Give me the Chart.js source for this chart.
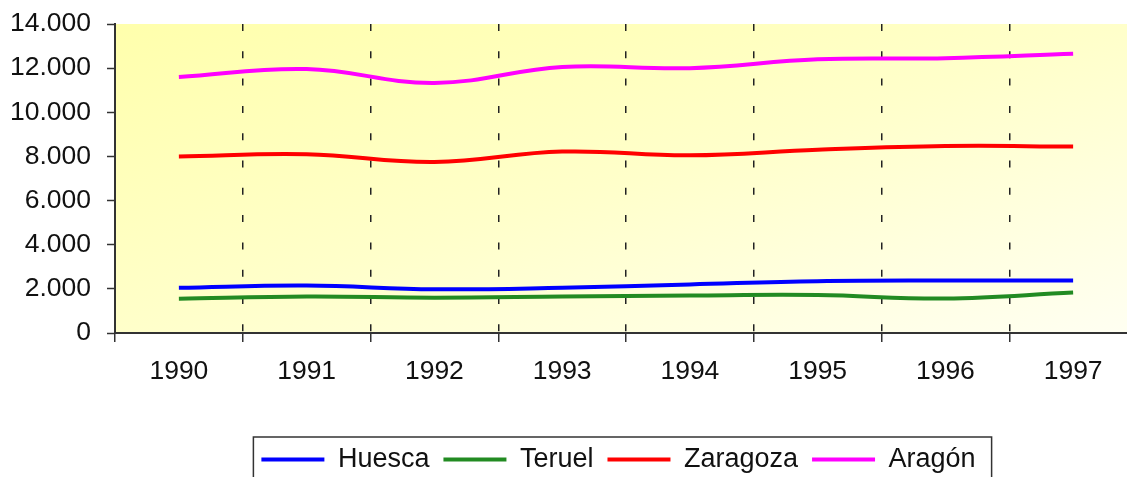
<!DOCTYPE html>
<html>
<head>
<meta charset="utf-8">
<script src="https://cdn.jsdelivr.net/npm/chart.js@4/dist/chart.umd.min.js"></script>
<style>
  html, body { margin: 0; padding: 0; overflow: hidden; background: #fff; }
  #wrap { position: absolute; left: 0; top: 0; width: 1237px; height: 483px; }
</style>
</head>
<body>
<div id="wrap"><canvas id="poblacionChart"></canvas></div>
<script>
// data
const years = ['1990', '1991', '1992', '1993', '1994', '1995', '1996', '1997'];
const huesca = [2050, 2150, 1980, 2050, 2200, 2350, 2380, 2380];
const teruel = [1550, 1650, 1600, 1650, 1700, 1720, 1560, 1830];
const zaragoza = [8000, 8100, 7750, 8220, 8050, 8300, 8470, 8450];
const aragon = [11600, 11960, 11330, 12050, 12000, 12400, 12450, 12650];
const yTicks = [0, 2000, 4000, 6000, 8000, 10000, 12000, 14000];

const axisColor = '#333';
const fontFamily = '"Liberation Sans", Arial, sans-serif';

function miles(v) {
    return String(v).replace(/\B(?=(\d{3})+(?!\d))/g, '.');
}

// yellow gradient behind the plot area
const plotBackground = {
    id: 'plotBackground',
    beforeDraw(chart) {
        const {ctx, chartArea: a} = chart;
        const W = a.right - a.left, H = a.bottom - a.top;
        const k = 2 * W * H / (W * W + H * H);
        const g = ctx.createLinearGradient(a.left, a.top, a.left + H * k, a.top + W * k);
        g.addColorStop(0, '#ffffac');
        g.addColorStop(0.5, '#ffffca');
        g.addColorStop(1, '#fffff2');
        ctx.save();
        ctx.fillStyle = g;
        ctx.fillRect(a.left, a.top, W, H);
        ctx.restore();
    }
};

// frame around the legend
const legendFrame = {
    id: 'legendFrame',
    afterDraw(chart) {
        const boxes = chart.legend.legendHitBoxes;
        if (!boxes || !boxes.length) return;
        const first = boxes[0], last = boxes[boxes.length - 1];
        const ctx = chart.ctx;
        ctx.save();
        ctx.strokeStyle = axisColor;
        ctx.lineWidth = 1.5;
        ctx.strokeRect(first.left - 8, first.top - 9, last.left + last.width + 16 - (first.left - 8), 60);
        ctx.restore();
    }
};

const ctx = document.getElementById('poblacionChart').getContext('2d');
const poblacionChart = new Chart(ctx, {
    type: 'line',
    data: {
        labels: years,
        datasets: [
            { label: 'Huesca', data: huesca, borderColor: '#0000ff', backgroundColor: '#0000ff' },
            { label: 'Teruel', data: teruel, borderColor: '#228b22', backgroundColor: '#228b22' },
            { label: 'Zaragoza', data: zaragoza, borderColor: '#ff0000', backgroundColor: '#ff0000' },
            { label: 'Aragón', data: aragon, borderColor: '#ff00ff', backgroundColor: '#ff00ff' }
        ]
    },
    options: {
        responsive: true,
        maintainAspectRatio: false,
        animation: false,
        layout: { padding: { left: 0, right: 0, top: 24, bottom: 0 } },
        elements: {
            line: { borderWidth: 4, tension: 0.4 },
            point: { radius: 0, hoverRadius: 0 }
        },
        plugins: {
            tooltip: { enabled: false },
            legend: {
                position: 'bottom',
                labels: {
                    boxWidth: 63,
                    boxHeight: 4,
                    padding: 14,
                    color: '#111',
                    font: { family: fontFamily, size: 27 },
                    generateLabels(chart) {
                        return Chart.defaults.plugins.legend.labels.generateLabels(chart)
                            .map(item => Object.assign(item, { lineWidth: 0 }));
                    }
                }
            }
        },
        scales: {
            x: {
                offset: true,
                afterFit(scale) { scale.height = 99; },
                grid: {
                    offset: true,
                    color: '#222',
                    lineWidth: 1.5,
                    tickLength: 9,
                    tickColor: axisColor,
                    tickWidth: 1.5
                },
                border: { color: axisColor, width: 2, dash: [7, 20.3] },
                ticks: {
                    padding: 14,
                    color: '#111',
                    font: { family: fontFamily, size: 26.5 },
                    maxRotation: 0
                }
            },
            y: {
                min: 0,
                max: 14000,
                afterFit(scale) {
                    scale.width = 115;
                    scale.paddingTop = 0;
                    scale.paddingBottom = 0;
                },
                afterBuildTicks(scale) { scale.ticks = yTicks.map(v => ({ value: v })); },
                grid: {
                    drawOnChartArea: false,
                    tickLength: 8,
                    tickColor: axisColor,
                    tickWidth: 1.5
                },
                border: { color: axisColor, width: 2 },
                ticks: {
                    padding: 16,
                    color: '#111',
                    font: { family: fontFamily, size: 26.5 },
                    callback: v => miles(v)
                }
            },
            // empty axis on the right: keeps the plot running off the picture edge
            // while the legend stays centred where the reference has it
            side: {
                type: 'linear',
                position: 'right',
                afterFit(scale) {
                    scale.width = 100;
                    scale.paddingTop = 0;
                    scale.paddingBottom = 0;
                },
                grid: { display: false },
                border: { display: false },
                ticks: { display: false }
            }
        }
    },
    plugins: [plotBackground, legendFrame]
});
</script>
</body>
</html>
